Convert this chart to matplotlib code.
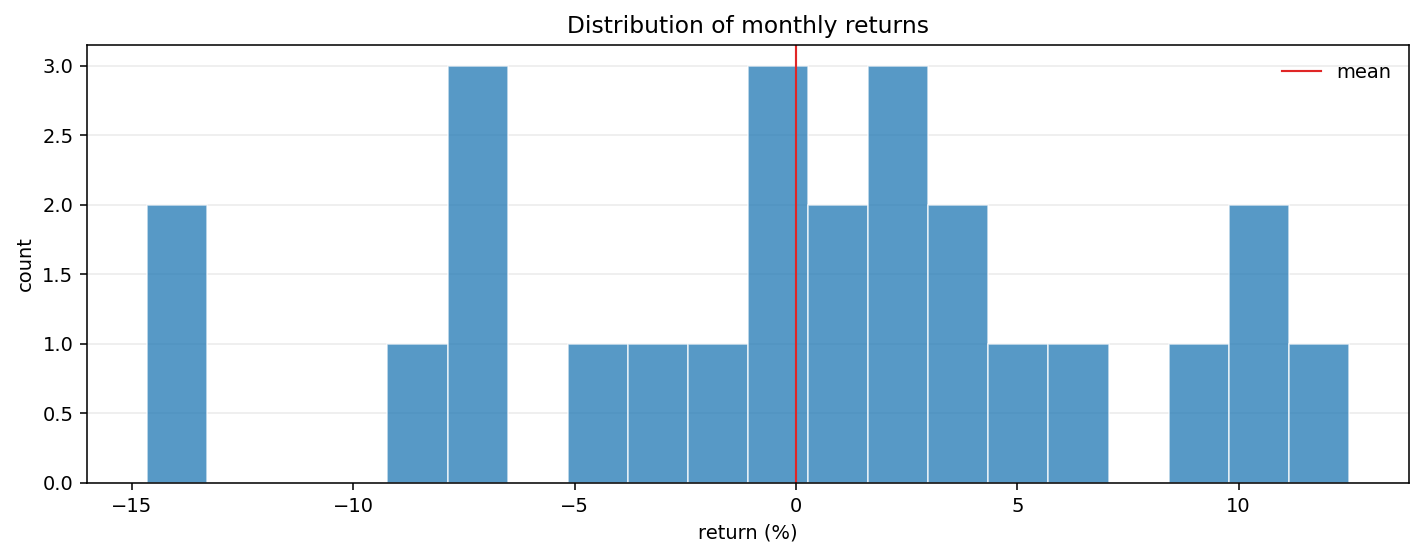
import numpy as np
import matplotlib.pyplot as plt

# monthly returns in percent
returns = [-14.66, -13.9,
           -8.5,
           -7.5, -7.2, -6.9,
           -4.5, -3.1, -1.8,
           -0.8, -0.4, 0.1,
           0.7, 1.2,
           2.0, 2.4, 2.5,
           3.4, 3.6,
           5.0, 6.3,
           9.1,
           10.2, 10.5,
           12.49]
n_bins = 20

mean_ret = np.mean(returns)

fig, ax = plt.subplots(figsize=(1424 / 140, 558 / 140), dpi=140)

ax.hist(returns, bins=n_bins, color='#1f77b4', alpha=0.75, edgecolor='white', linewidth=0.8)
ax.axvline(mean_ret, color='#e02626', linewidth=1.1, label='mean')

ax.set_title('Distribution of monthly returns')
ax.set_xlabel('return (%)')
ax.set_ylabel('count')
ax.grid(axis='y', alpha=0.25)
ax.set_axisbelow(True)
ax.legend(frameon=False, loc='upper right')

fig.subplots_adjust(left=87 / 1424, right=1409 / 1424, top=1 - 45 / 558, bottom=1 - 483 / 558)
plt.savefig('out.png')
